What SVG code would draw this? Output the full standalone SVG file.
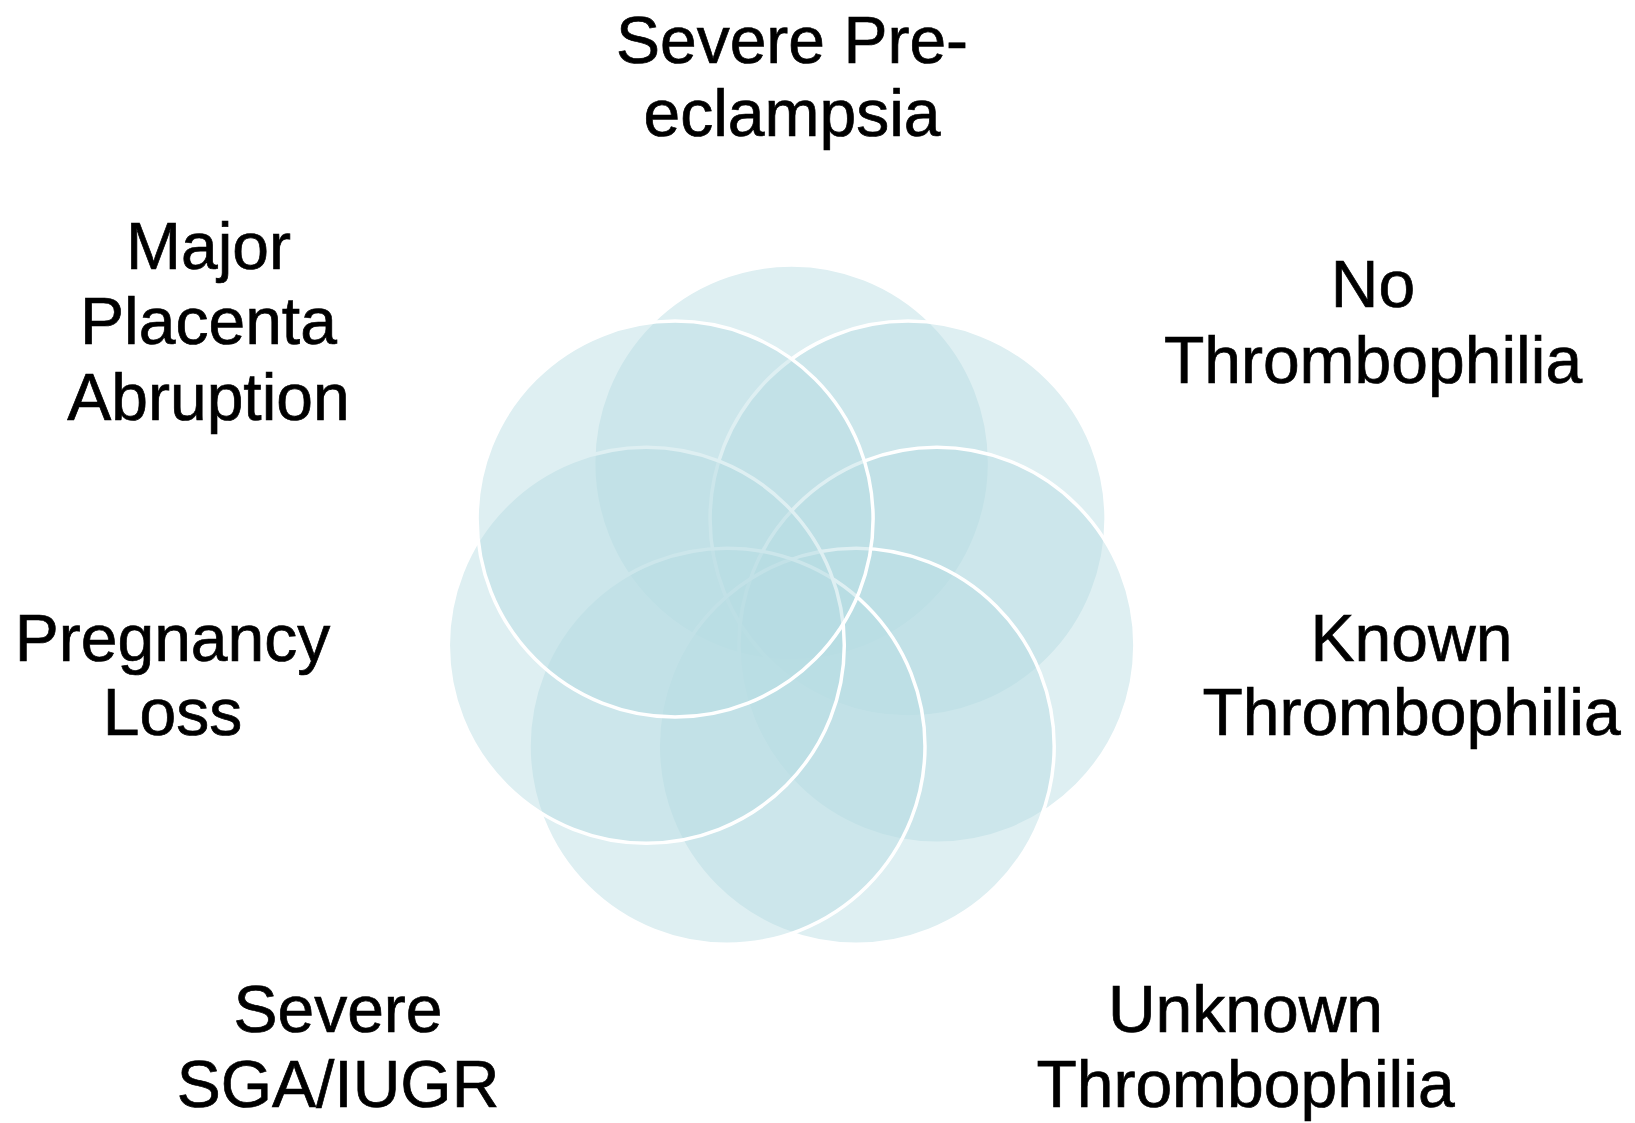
<svg xmlns="http://www.w3.org/2000/svg" width="1635" height="1123" viewBox="0 0 1635 1123">
<style>
.c{fill:rgb(182,220,226);fill-opacity:0.46;stroke:#fff;stroke-width:3.5}
.t{font-family:"Liberation Sans",Arial,sans-serif;font-size:66px;fill:#000;stroke:#000;stroke-width:0.7;text-anchor:middle}
</style>
<rect width="1635" height="1123" fill="#fff"/>
<g id="circles">
<circle id="c-top" class="c" cx="791.6" cy="463" r="198"/>
<circle id="c-ur" class="c" cx="908.1" cy="519.1" r="198"/>
<circle id="c-r" class="c" cx="936.9" cy="645.2" r="198"/>
<circle id="c-br" class="c" cx="856.2" cy="746.2" r="198"/>
<circle id="c-bl" class="c" cx="727" cy="746.2" r="198"/>
<circle id="c-l" class="c" cx="646.3" cy="645.2" r="198"/>
<circle id="c-ul" class="c" cx="675.1" cy="519.1" r="198"/>
</g>
<g id="labels">
<text id="l-pre" class="t"><tspan x="792" y="62.5">Severe Pre-</tspan><tspan x="792" y="135.5">eclampsia</tspan></text>
<text id="l-abr" class="t"><tspan x="208.5" y="269">Major</tspan><tspan x="208.5" y="344">Placenta</tspan><tspan x="208.5" y="420">Abruption</tspan></text>
<text id="l-no" class="t"><tspan x="1373" y="306.5">No</tspan><tspan x="1373" y="382.5">Thrombophilia</tspan></text>
<text id="l-loss" class="t"><tspan x="172.5" y="661">Pregnancy</tspan><tspan x="172.5" y="735">Loss</tspan></text>
<text id="l-known" class="t"><tspan x="1411.5" y="661">Known</tspan><tspan x="1411.5" y="735">Thrombophilia</tspan></text>
<text id="l-sga" class="t"><tspan x="338" y="1032">Severe</tspan><tspan x="338" y="1107">SGA/IUGR</tspan></text>
<text id="l-unk" class="t"><tspan x="1245.5" y="1032">Unknown</tspan><tspan x="1245.5" y="1107">Thrombophilia</tspan></text>
</g>
</svg>
